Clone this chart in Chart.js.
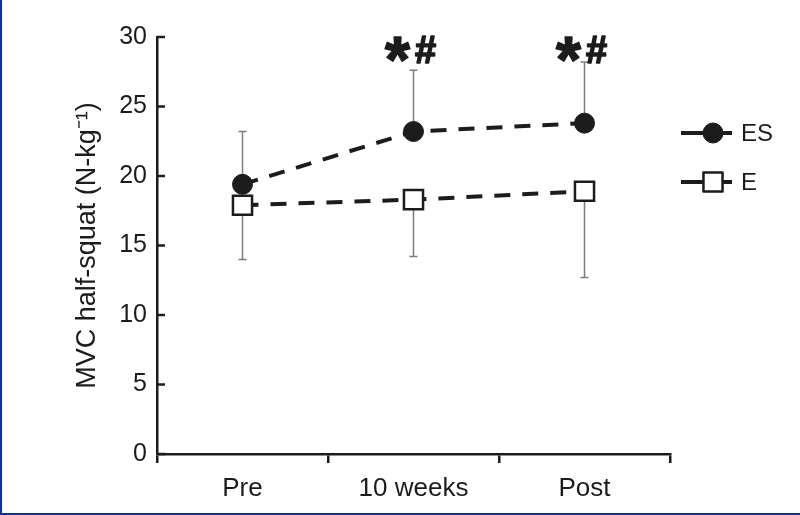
<!DOCTYPE html>
<html>
<head>
<meta charset="utf-8">
<script src="https://cdn.jsdelivr.net/npm/chart.js@4.4.1/dist/chart.umd.min.js"></script>
<style>
  html, body { margin: 0; padding: 0; background: #fff; }
  .wrap { position: relative; width: 800px; height: 515px; }
  .edge-left { position: absolute; left: 0; top: 0; width: 2px; height: 515px; background: #0d3596; }
  .edge-bottom { position: absolute; left: 0; bottom: 0; width: 800px; height: 2px; background: #0d3596; }
</style>
</head>
<body>
<div class="wrap">
  <canvas id="chart" width="800" height="515"></canvas>
  <div class="edge-left"></div>
  <div class="edge-bottom"></div>
</div>
<script>
const categories = ['Pre', '10 weeks', 'Post'];
const esValues = [19.4, 23.2, 23.8];
const eValues = [17.9, 18.3, 18.9];
const esUpper = [23.2, 27.6, 28.2];
const eLower = [14.0, 14.2, 12.7];
const sigMarks = ['', '*#', '*#'];

const ink = '#1c1c1c';
const fontFamily = '"Liberation Sans", Arial, sans-serif';

// error bars: ES upward, E downward, drawn behind the markers
const errorBars = {
  id: 'errorBars',
  beforeDatasetsDraw(chart) {
    const { ctx, scales: { x, y } } = chart;
    const bars = [[esValues, esUpper], [eValues, eLower]];
    ctx.save();
    ctx.strokeStyle = '#7d7d7d';
    ctx.lineWidth = 1.5;
    bars.forEach(([vals, ends]) => {
      vals.forEach((v, i) => {
        const px = x.getPixelForValue(i);
        const y0 = y.getPixelForValue(v);
        const y1 = y.getPixelForValue(ends[i]);
        ctx.beginPath();
        ctx.moveTo(px, y0);
        ctx.lineTo(px, y1);
        ctx.moveTo(px - 4, y1);
        ctx.lineTo(px + 4, y1);
        ctx.stroke();
      });
    });
    ctx.restore();
  }
};

// inward ticks on the y axis, legend and significance marks
const extras = {
  id: 'extras',
  afterDraw(chart) {
    const { ctx, chartArea, scales: { x, y } } = chart;
    ctx.save();
    ctx.strokeStyle = ink;
    ctx.lineWidth = 2.5;
    y.ticks.forEach(t => {
      const py = y.getPixelForValue(t.value);
      ctx.beginPath();
      ctx.moveTo(chartArea.left, py);
      ctx.lineTo(chartArea.left + 8, py);
      ctx.stroke();
    });

    // significance marks, thickened with a stroke
    ctx.fillStyle = ink;
    ctx.strokeStyle = ink;
    ctx.lineWidth = 1.6;
    ctx.lineJoin = 'round';
    ctx.textAlign = 'center';
    ctx.textBaseline = 'alphabetic';
    sigMarks.forEach((m, i) => {
      if (!m) return;
      const px = x.getPixelForValue(i);
      ctx.font = 'bold 64px ' + fontFamily;
      const a = ctx.measureText('*');
      const h = a.actualBoundingBoxAscent + a.actualBoundingBoxDescent;
      const ay = 49 - h / 2 + a.actualBoundingBoxAscent;
      ctx.fillText('*', px - 16, ay);
      ctx.strokeText('*', px - 16, ay);
      ctx.font = 'bold 38px ' + fontFamily;
      const b = ctx.measureText('#');
      const hb = b.actualBoundingBoxAscent + b.actualBoundingBoxDescent;
      const by = 49 - hb / 2 + b.actualBoundingBoxAscent;
      ctx.fillText('#', px + 12, by);
      ctx.strokeText('#', px + 12, by);
    });

    // legend
    const rows = [chartArea.top + 96, chartArea.top + 145];
    chart.data.datasets.forEach((ds, i) => {
      const ly = rows[i];
      const lx = chartArea.right + 11;
      ctx.strokeStyle = ink;
      ctx.lineWidth = 4;
      ctx.setLineDash([]);
      ctx.beginPath();
      ctx.moveTo(lx, ly);
      ctx.lineTo(lx + 51, ly);
      ctx.stroke();
      ctx.fillStyle = ds.pointBackgroundColor;
      ctx.strokeStyle = ds.pointBorderColor;
      ctx.lineWidth = ds.pointBorderWidth;
      Chart.helpers.drawPoint(ctx, {
        pointStyle: ds.pointStyle,
        radius: ds.pointRadius,
        rotation: 0,
        borderWidth: ds.pointBorderWidth
      }, lx + 32, ly);
      ctx.fillStyle = ink;
      ctx.textAlign = 'left';
      ctx.textBaseline = 'middle';
      ctx.font = '24px ' + fontFamily;
      ctx.fillText(ds.label, lx + 60, ly + 1);
    });
    ctx.restore();
  }
};

new Chart(document.getElementById('chart'), {
  type: 'line',
  data: {
    labels: categories,
    datasets: [
      {
        label: 'ES',
        data: esValues,
        borderColor: ink,
        borderWidth: 4,
        borderDash: [16, 12],
        pointStyle: 'circle',
        pointRadius: 10,
        pointBackgroundColor: ink,
        pointBorderColor: ink,
        pointBorderWidth: 1,
        tension: 0,
        clip: false
      },
      {
        label: 'E',
        data: eValues,
        borderColor: ink,
        borderWidth: 4,
        borderDash: [16, 12],
        pointStyle: 'rect',
        pointRadius: 13.5,
        pointBackgroundColor: '#ffffff',
        pointBorderColor: ink,
        pointBorderWidth: 2.5,
        tension: 0,
        clip: false
      }
    ]
  },
  options: {
    responsive: false,
    animation: false,
    events: [],
    layout: { padding: { left: 0, right: 130, top: 37, bottom: 0 } },
    plugins: {
      legend: { display: false },
      tooltip: { enabled: false }
    },
    scales: {
      x: {
        type: 'category',
        offset: true,
        grid: {
          offset: true,
          drawOnChartArea: false,
          drawTicks: true,
          tickLength: 9,
          lineWidth: 2.5,
          color: ink
        },
        border: { display: true, width: 2.5, color: ink },
        ticks: {
          color: ink,
          padding: 10,
          font: { family: fontFamily, size: 26 }
        },
        afterFit(scale) { scale.height = 61; }
      },
      y: {
        min: 0,
        max: 30,
        ticks: {
          stepSize: 5,
          color: ink,
          padding: 10,
          font: { family: fontFamily, size: 25 }
        },
        grid: { drawOnChartArea: false, drawTicks: false },
        border: { display: true, width: 2.5, color: ink },
        title: {
          display: true,
          text: 'MVC half-squat (N-kg⁻¹)',
          color: ink,
          font: { family: fontFamily, size: 27 },
          padding: { top: 71, bottom: 0 }
        },
        afterFit(scale) { scale.width = 157; }
      }
    }
  },
  plugins: [errorBars, extras]
});
</script>
</body>
</html>
